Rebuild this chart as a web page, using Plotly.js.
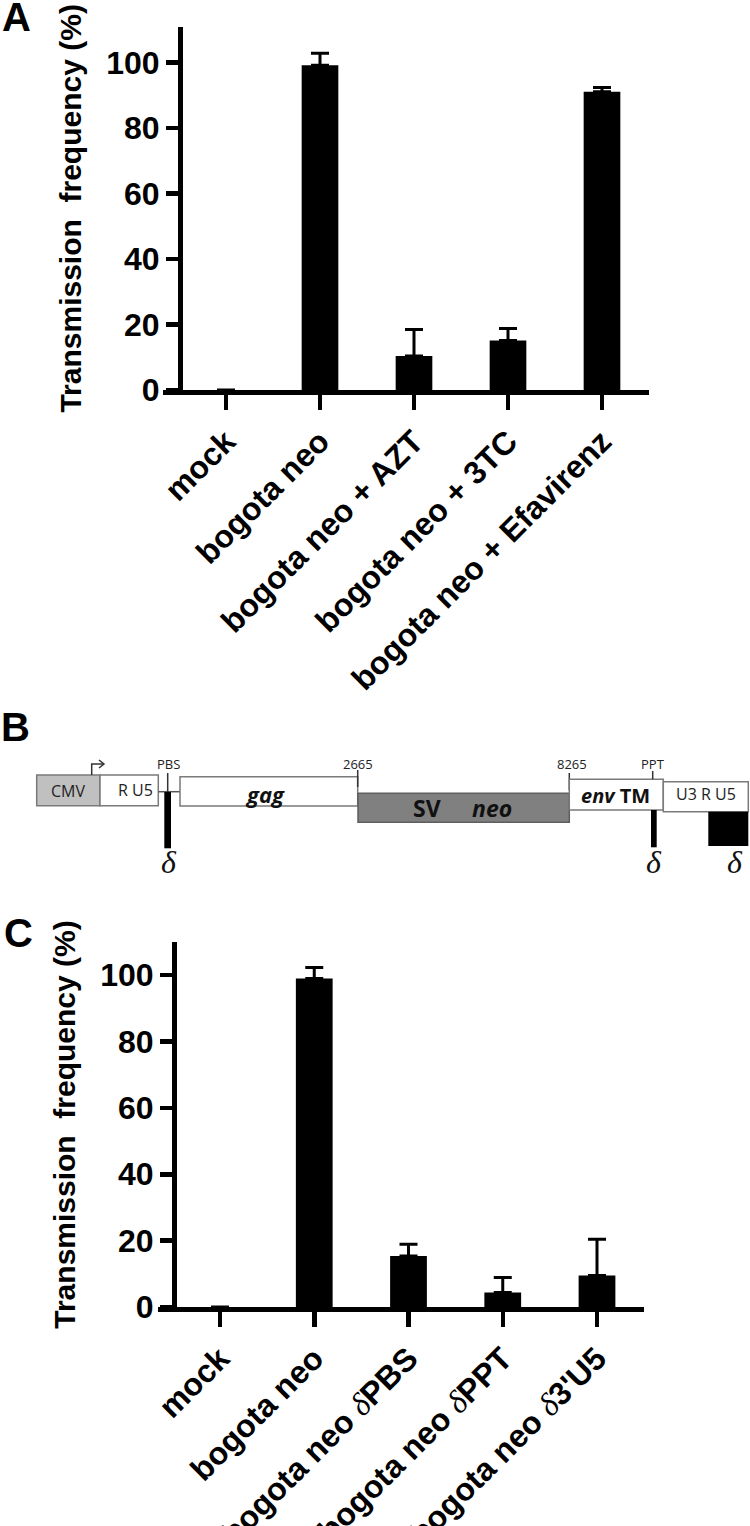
<!DOCTYPE html>
<html>
<head>
<meta charset="utf-8">
<script src="https://cdn.plot.ly/plotly-3.0.1.min.js"></script>
<style>
html,body{margin:0;padding:0;background:#fff;}
#chart{width:750px;height:1526px;}
</style>
</head>
<body>
<div id="chart"></div>
<script>
// ---------- data ----------
const categoriesA = ['mock', 'bogota neo', 'bogota neo + AZT', 'bogota neo + 3TC', 'bogota neo + Efavirenz'];
const valuesA = [0, 99.2, 10.4, 15.1, 91.1];
const errorsA = [null, 3.7, 8.1, 3.7, 1.3];

const categoriesC = ['mock', 'bogota neo', 'bogota neo δPBS', 'bogota neo δPPT', "bogota neo δ3'U5"];
const valuesC = [0, 99.0, 15.4, 4.4, 9.5];
const errorsC = [null, 3.3, 3.5, 4.5, 10.9];

const yTicks = [0, 20, 40, 60, 80, 100];
const yTitle = 'Transmission\u00a0 frequency (%)';

// ---------- helpers ----------
const W = 750, H = 1526;
const X = px => px / W;
const Y = py => 1 - py / H;
const FONT = 'Liberation Sans, Arial, Helvetica, sans-serif';
const DFONT = 'Open Sans, Noto Sans, sans-serif';
const delta = '<span style="font-family:Liberation Serif, DejaVu Serif, serif;font-weight:normal;font-style:italic">δ</span>';
const tickTextC = categoriesC.map(c => c.replace('δ', delta));

function barTrace(cats, vals, errs, xa, ya) {
  return {
    type: 'bar', x: cats, y: vals, xaxis: xa, yaxis: ya,
    width: 0.39,
    marker: {color: '#000', line: {width: 0}},
    error_y: {type: 'data', symmetric: false, array: errs, arrayminus: errs.map(e => (e === null ? null : 0)),
              color: '#000', thickness: 3, width: 9},
    hoverinfo: 'x+y', showlegend: false
  };
}

const axisFont = {family: FONT, size: 32, color: '#000', weight: 'bold'};

function xAxis(domL, domR, ya, tickPx0, spacing, cats, ticktext) {
  return {
    domain: [X(domL), X(domR)], anchor: ya,
    type: 'category',
    range: [(domL - tickPx0) / spacing, (domR - tickPx0) / spacing],
    showline: true, linewidth: 5, linecolor: '#000',
    ticks: 'outside', ticklen: 15, tickwidth: 4.5, tickcolor: '#000',
    tickangle: -45, tickfont: axisFont,
    tickmode: 'array', tickvals: cats, ticktext: ticktext,
    showgrid: false, zeroline: false, fixedrange: true
  };
}
function yAxis(top, bottom, posPx, ymax) {
  return {
    domain: [Y(bottom), Y(top)], anchor: 'free', position: X(posPx),
    range: [0, ymax],
    showline: true, linewidth: 5, linecolor: '#000',
    ticks: 'outside', ticklen: 12, tickwidth: 4.5, tickcolor: '#000',
    tickmode: 'array', tickvals: yTicks, tickfont: axisFont,
    showgrid: false, zeroline: false, fixedrange: true,
    title: {text: yTitle, font: {family: FONT, size: 30, color: '#000', weight: 'bold'}, standoff: 14}
  };
}

// ---------- panel B schematic ----------
const shapes = [];
const grayLine = {color: '#7a7a7a', width: 1.5};
function rect(x0, y0, x1, y1, fill, line) {
  shapes.push({type: 'rect', xref: 'paper', yref: 'paper', x0: X(x0), x1: X(x1), y0: Y(y1), y1: Y(y0),
               fillcolor: fill, line: line || grayLine, layer: 'above'});
}
function seg(x0, y0, x1, y1, color, width) {
  shapes.push({type: 'line', xref: 'paper', yref: 'paper', x0: X(x0), x1: X(x1), y0: Y(y0), y1: Y(y1),
               line: {color: color || '#444', width: width || 1.5}, layer: 'above'});
}
rect(36.7, 775, 100, 805.7, '#c0c0c0');            // CMV
rect(100, 775, 158.3, 805.7, '#ffffff');           // R U5
seg(158.3, 791.7, 180, 791.7, '#555', 1.5);        // linker
seg(167.7, 773, 167.7, 792, '#333', 1.5);          // PBS tick
rect(164.3, 792, 171, 848.3, '#000', {width: 0});  // PBS deletion
rect(180, 776.7, 357.7, 806, '#ffffff');           // gag
seg(357.7, 770, 357.7, 787, '#333', 1.5);          // 2665 tick
rect(358, 793.3, 569.3, 822.3, '#808080', {color: '#5e5e5e', width: 1.5}); // SV neo
seg(569.3, 773, 569.3, 790, '#333', 1.5);          // 8265 tick
rect(569.3, 779.3, 663.3, 810, '#ffffff');         // env TM
seg(652.7, 771, 652.7, 779.3, '#333', 1.5);        // PPT tick
rect(651, 810, 656.7, 847.3, '#000', {width: 0});  // PPT deletion
rect(663.3, 781.7, 748.3, 811.7, '#ffffff');       // U3 R U5
rect(708.3, 811.7, 748.3, 846, '#000', {width: 0});// 3'U5 deletion
// promoter arrow
shapes.push({type: 'path', xref: 'paper', yref: 'paper',
  path: `M${X(91.7)},${Y(775)} L${X(91.7)},${Y(764)} L${X(104)},${Y(764)}`,
  line: {color: '#333', width: 1.5}, layer: 'above'});
shapes.push({type: 'path', xref: 'paper', yref: 'paper',
  path: `M${X(99)},${Y(760)} L${X(104)},${Y(764)} L${X(99)},${Y(768)}`,
  line: {color: '#333', width: 1.5}, layer: 'above'});

const annotations = [];
function txt(text, x, y, size, opts) {
  annotations.push(Object.assign({text: text, xref: 'paper', yref: 'paper', x: X(x), y: Y(y),
    showarrow: false, xanchor: 'center', yanchor: 'middle',
    font: {family: DFONT, size: size, color: '#222'}}, opts || {}));
}
txt('CMV', 68, 791, 16);
txt('R U5', 155, 790, 16, {xanchor: 'right'});
txt('PBS', 168, 764, 13);
txt('2665', 358, 764, 13);
txt('8265', 572, 764, 13);
txt('PPT', 653, 764, 13);
txt('<b><i>gag</i></b>', 265, 794, 22, {font: {family: DFONT, size: 22, color: '#111'}});
txt('<b>SV</b>', 427, 808, 23, {font: {family: DFONT, size: 23, color: '#111'}});
txt('<b><i>neo</i></b>', 492, 808, 23, {font: {family: DFONT, size: 23, color: '#111'}});
txt('<b><i>env</i> TM</b>', 615, 796, 20, {font: {family: DFONT, size: 20, color: '#111'}});
txt('U3 R U5', 706, 794, 16);
const dFont = {family: 'Liberation Serif, DejaVu Serif, serif', size: 32, color: '#111'};
txt('<i>δ</i>', 169, 862, 32, {font: dFont});
txt('<i>δ</i>', 654, 862, 32, {font: dFont});
txt('<i>δ</i>', 735, 862, 32, {font: dFont});
// panel letters
const letterFont = {family: FONT, size: 40, color: '#000', weight: 'bold'};
txt('A', 16, 17, 40, {font: letterFont});
txt('B', 15, 727, 40, {font: letterFont});
txt('C', 18, 933, 40, {font: letterFont});

const data = [
  barTrace(categoriesA, valuesA, errorsA, 'x', 'y'),
  barTrace(categoriesC, valuesC, errorsC, 'x2', 'y2')
];

const layout = {
  width: W, height: H,
  margin: {l: 0, r: 0, t: 0, b: 0},
  paper_bgcolor: '#fff', plot_bgcolor: 'rgba(0,0,0,0)',
  showlegend: false,
  xaxis: xAxis(163, 649, 'y', 226, 94, categoriesA, categoriesA),
  yaxis: yAxis(26.7, 390, 180, 111),
  xaxis2: xAxis(158, 644, 'y2', 220, 94.25, categoriesC, tickTextC),
  yaxis2: yAxis(942, 1307, 174, 110),
  shapes: shapes,
  annotations: annotations
};

Plotly.newPlot('chart', data, layout, {displayModeBar: false, staticPlot: true});
</script>
</body>
</html>
